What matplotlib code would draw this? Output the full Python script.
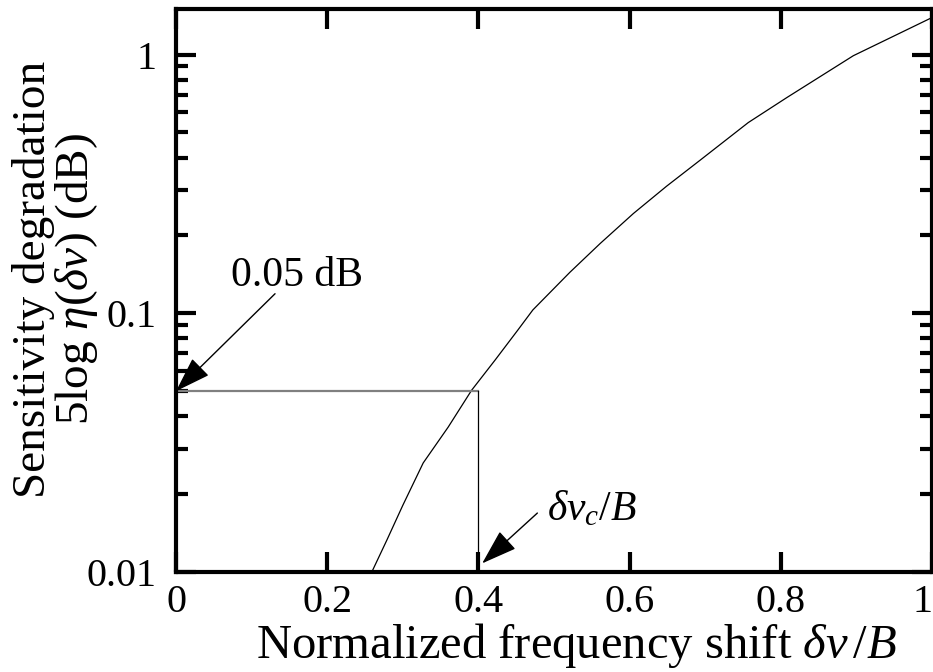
import matplotlib
matplotlib.use('Agg')
import matplotlib.pyplot as plt
from matplotlib.ticker import LogLocator, NullFormatter, FixedLocator, FixedFormatter

## curve (normalized shift vs degradation in dB)
shift = [0.259, 0.279, 0.300, 0.327, 0.360, 0.391, 0.422, 0.452, 0.472,
         0.521, 0.561, 0.605, 0.649, 0.693, 0.757, 0.808, 0.896, 1.000]
degradation = [0.0100, 0.0133, 0.0181, 0.0264, 0.0363, 0.0504, 0.0659, 0.0860,
               0.103, 0.144, 0.186, 0.243, 0.310, 0.390, 0.546, 0.682, 0.990, 1.390]

## threshold marker
limit_db = 0.05
limit_shift = 0.4

x_ticks = [0, 0.2, 0.4, 0.6, 0.8, 1]
x_tick_labels = ['0', '0.2', '0.4', '0.6', '0.8', '1']
y_ticks = [0.01, 0.1, 1]
y_tick_labels = ['0.01', '0.1', '1']

plt.rcParams['font.family'] = ['Liberation Serif', 'DejaVu Serif']
plt.rcParams['mathtext.fontset'] = 'custom'
plt.rcParams['mathtext.rm'] = 'Liberation Serif'
plt.rcParams['mathtext.it'] = 'Liberation Serif:italic'
plt.rcParams['font.size'] = 29

fig = plt.figure(figsize=(9.33, 6.72), dpi=100)
ax = fig.add_axes([176 / 933, 1 - 572 / 672, 756 / 933, 563 / 672])

ax.plot(shift, degradation, color='black', lw=0.9)
ax.plot([0, limit_shift], [limit_db, limit_db], color='#808080', lw=1.6)
ax.plot([limit_shift, limit_shift], [0.01, limit_db], color='black', lw=0.9)

ax.set_yscale('log')
ax.set_xlim(0, 1)
ax.set_ylim(0.01, 1.5)

ax.xaxis.set_major_locator(FixedLocator(x_ticks))
ax.xaxis.set_major_formatter(FixedFormatter(x_tick_labels))
ax.yaxis.set_major_locator(FixedLocator(y_ticks))
ax.yaxis.set_major_formatter(FixedFormatter(y_tick_labels))
ax.yaxis.set_minor_locator(LogLocator(base=10, subs=range(2, 10)))
ax.yaxis.set_minor_formatter(NullFormatter())

for s in ax.spines.values():
    s.set_linewidth(3)
ax.tick_params(which='both', direction='in', top=True, right=True, width=3)
ax.tick_params(which='major', length=14.5)
ax.tick_params(which='minor', length=8.5)
ax.tick_params(axis='y', which='major', pad=14)
ax.tick_params(axis='x', which='major', pad=9)

# last x label sits flush with the right edge of the figure
fig.canvas.draw()
ax.get_xticklabels()[-1].set_horizontalalignment('right')

ax.set_xlabel(r'Normalized frequency shift $\delta\nu\,/B$', fontsize=35,
              x=0.53, labelpad=0)
ax.set_ylabel('Sensitivity degradation\n' + r'5log $\eta(\delta\nu)$ (dB)',
              fontsize=34, linespacing=0.95)
ax.yaxis.set_label_coords(-0.10, 0.52)

arrow = dict(arrowstyle='-|>,head_length=0.9,head_width=0.3', color='black',
             lw=1, mutation_scale=25, shrinkA=0, shrinkB=0)
ax.annotate('', xy=(0.0, limit_db), xytext=(0.131, 0.119), arrowprops=arrow)
ax.text(0.160, 0.128, '0.05 dB', ha='center', va='baseline', fontsize=30)
ax.annotate('', xy=(0.405, 0.0108), xytext=(0.478, 0.0169), arrowprops=arrow)
ax.text(0.491, 0.0159, r'$\delta\nu_c/B$', ha='left', va='baseline', fontsize=30)

fig.savefig('out.png', dpi=100)
